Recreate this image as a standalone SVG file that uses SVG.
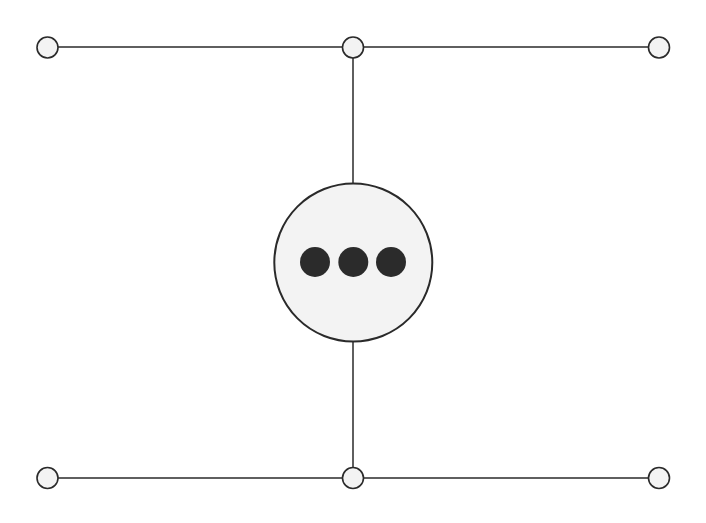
<svg xmlns="http://www.w3.org/2000/svg" width="706" height="523" viewBox="0 0 706 523">
<style>
.edge{stroke:#2a2a2a;stroke-width:1.5;fill:none}
.port{fill:#f3f3f3;stroke:#2a2a2a;stroke-width:1.6}
.hub{fill:#f3f3f3;stroke:#2a2a2a;stroke-width:2}
.dot{fill:#2b2b2b}
</style>
<rect width="706" height="523" fill="#ffffff"/>
<g id="connectors">
<line class="edge" x1="58" y1="47" x2="342" y2="47"/>
<line class="edge" x1="364" y1="47" x2="648" y2="47"/>
<line class="edge" x1="353" y1="58" x2="353" y2="183"/>
<line class="edge" x1="353" y1="341" x2="353" y2="467"/>
<line class="edge" x1="58" y1="478" x2="342" y2="478"/>
<line class="edge" x1="364" y1="478" x2="648" y2="478"/>
</g>
<g id="n-tl"><circle class="port" cx="47.5" cy="47.5" r="10.5"/></g>
<g id="n-tm"><circle class="port" cx="353" cy="47.5" r="10.5"/></g>
<g id="n-tr"><circle class="port" cx="659" cy="47.5" r="10.5"/></g>
<g id="n-bl"><circle class="port" cx="47.5" cy="478" r="10.5"/></g>
<g id="n-bm"><circle class="port" cx="353" cy="478" r="10.5"/></g>
<g id="n-br"><circle class="port" cx="659" cy="478" r="10.5"/></g>
<g id="n-hub">
<circle class="hub" cx="353.3" cy="262.5" r="79"/>
<circle class="dot" cx="315" cy="262" r="15"/>
<circle class="dot" cx="353.3" cy="262" r="15"/>
<circle class="dot" cx="391" cy="262" r="15"/>
</g>
</svg>
